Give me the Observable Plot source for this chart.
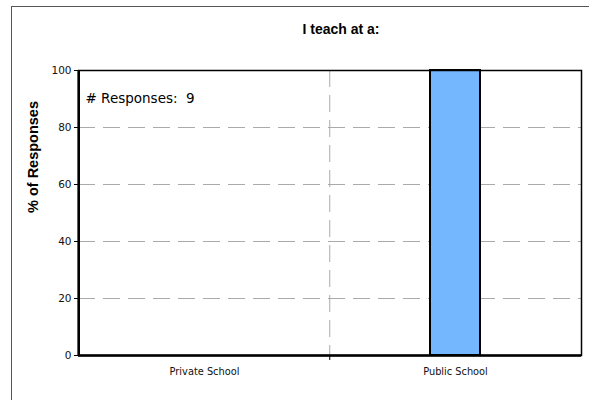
<!DOCTYPE html>
<html><head><meta charset="utf-8">
<script src="https://cdn.jsdelivr.net/npm/d3@7"></script>
<script src="https://cdn.jsdelivr.net/npm/@observablehq/plot@0.6"></script>
<style>
body{margin:0;background:#fff;overflow:hidden;}
#wrap{position:relative;width:589px;height:400px;}
#border{position:absolute;left:11px;top:6px;width:620px;height:430px;border:1px solid #555;}
#chart{position:absolute;left:0;top:0;}
</style></head>
<body><div id="wrap"><div id="border"></div><div id="chart"></div></div>
<script>
const categories = ["Private School", "Public School"];
const values = [0, 100];
const yTicks = [0, 20, 40, 60, 80, 100];
const gridTicks = [20, 40, 60, 80];
const title = "I teach at a:";
const yLabel = "% of Responses";
const note = "# Responses:  9";

const data = categories.map((c, i) => ({category: c, value: values[i]}));
const W = 589, H = 400, ML = 78, MR = 8, MT = 70, MB = 45;
const step = (W - ML - MR) / categories.length;

const chart = Plot.plot({
  width: W, height: H,
  marginLeft: ML, marginRight: MR, marginTop: MT, marginBottom: MB,
  style: {background: "transparent", overflow: "visible"},
  x: {domain: categories, paddingInner: 0.8, paddingOuter: 0.4, axis: null},
  y: {domain: [0, 100], axis: null},
  marks: [
    Plot.ruleY(gridTicks, {stroke: "#aaa", strokeDasharray: "17,8"}),
    Plot.ruleX(categories.slice(1), {stroke: "#aaa", strokeDasharray: "17,8", dx: -step / 2}),
    Plot.barY(data, {x: "category", y: "value", fill: "#75B7FF", stroke: "#000", strokeWidth: 2}),
    Plot.frame({stroke: "#000", strokeWidth: 1.5}),
    Plot.axisY({ticks: yTicks, tickSize: 4, tickPadding: 3, label: null,
      fontSize: 10.5, fontFamily: "DejaVu Sans", stroke: "#000", color: "#111"}),
    Plot.axisX({tickSize: 0, tickPadding: 13, label: null, fontSize: 9.8, fontFamily: "DejaVu Sans", color: "#111"}),
    Plot.ruleX(categories.slice(1), {y1: 0, y2: 0, dx: -step / 2, stroke: "#000", insetBottom: -5}),
    Plot.ruleY([0], {stroke: "#000", strokeWidth: 2.5}),
    Plot.ruleX([categories[0]], {stroke: "#000", strokeWidth: 2.5, dx: -step / 2}),
    Plot.text([title], {frameAnchor: "top", dy: -46, dx: 11, fontSize: 14, fontWeight: "bold", fontFamily: "Liberation Sans", fill: "#000"}),
    Plot.text([yLabel], {frameAnchor: "left", dx: -45, rotate: -90, fontSize: 14.5, fontWeight: "bold", fontFamily: "Liberation Sans", fill: "#000"}),
    Plot.text([note], {frameAnchor: "top-left", dx: 7, dy: 23, textAnchor: "start", fontSize: 13.5, fontFamily: "DejaVu Sans", fill: "#000"})
  ]
});
document.getElementById("chart").appendChild(chart);
</script></body></html>
